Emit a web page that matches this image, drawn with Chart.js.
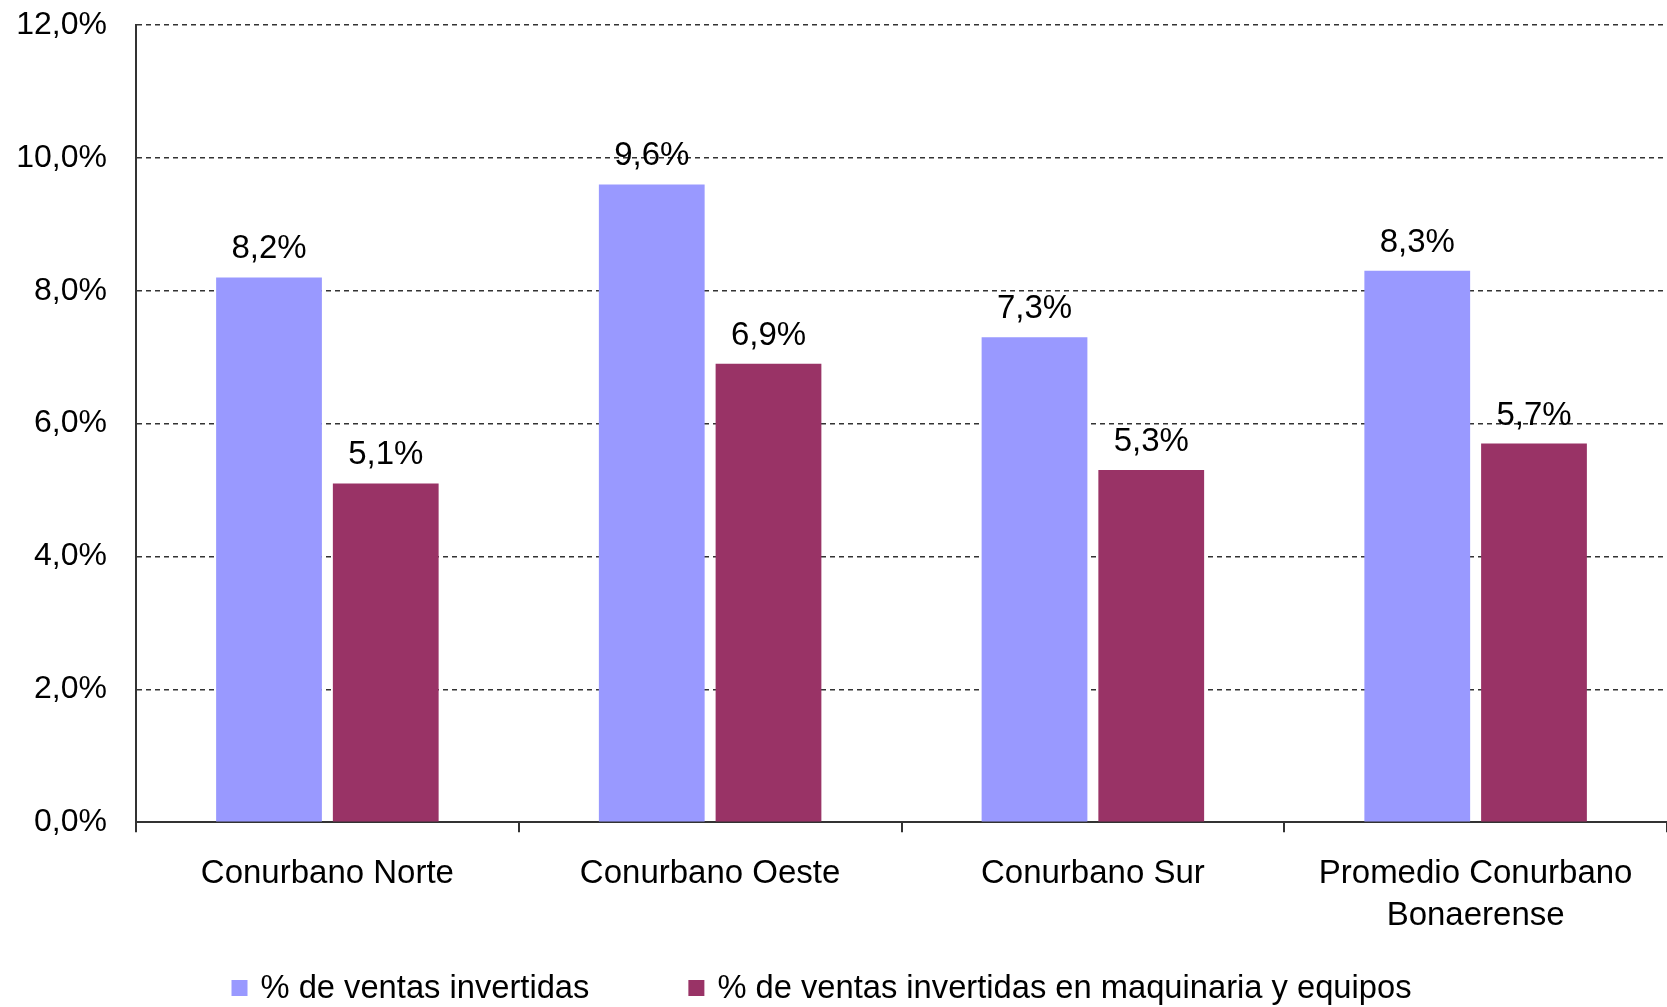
<!DOCTYPE html>
<html>
<head>
<meta charset="utf-8">
<script src="https://cdn.jsdelivr.net/npm/chart.js@4"></script>
<style>
  html, body { margin: 0; padding: 0; background: #fff; }
  canvas { display: block; }
</style>
</head>
<body>
<canvas id="bar-chart" width="1667" height="1007"></canvas>
<script>
const categories = [
  "Conurbano Norte",
  "Conurbano Oeste",
  "Conurbano Sur",
  ["Promedio Conurbano", "Bonaerense"],
];
const ventasInvertidas = [8.2, 9.6, 7.3, 8.3];
const ventasMaquinaria = [5.1, 6.9, 5.3, 5.7];
const seriesLabels = [
  "% de ventas invertidas",
  "% de ventas invertidas en maquinaria y equipos",
];
const yTicks = [0, 2, 4, 6, 8, 10, 12];

const FONT = "'Liberation Sans', Arial, sans-serif";
const fmt = (v, dec) => v.toFixed(dec).replace(".", ",") + "%";

// value labels above each bar
const valueLabels = {
  id: "valueLabels",
  afterDatasetsDraw(chart) {
    const { ctx } = chart;
    ctx.save();
    ctx.font = `33px ${FONT}`;
    ctx.fillStyle = "#000";
    ctx.textAlign = "center";
    ctx.textBaseline = "alphabetic";
    chart.data.datasets.forEach((ds, i) => {
      chart.getDatasetMeta(i).data.forEach((bar, j) => {
        ctx.fillText(fmt(ds.data[j], 1), bar.x, bar.y - 19);
      });
    });
    ctx.restore();
  },
};

// legend row at the bottom, wide gap between the two entries
const bottomLegend = {
  id: "bottomLegend",
  afterDraw(chart) {
    const { ctx } = chart;
    const box = 16, textGap = 13, itemGap = 99;
    ctx.save();
    ctx.font = `32.7px ${FONT}`;
    ctx.textBaseline = "middle";
    ctx.textAlign = "left";
    const items = chart.data.datasets.map((ds) => ({
      text: ds.label,
      color: ds.backgroundColor,
      width: box + textGap + ctx.measureText(ds.label).width,
    }));
    const total = items.reduce((s, it) => s + it.width, 0) + itemGap * (items.length - 1);
    let x = (chart.width - total) / 2 - 12;
    const y = chart.height - 19;
    items.forEach((it) => {
      ctx.fillStyle = it.color;
      ctx.fillRect(x, y - box / 2, box, box);
      ctx.fillStyle = "#000";
      ctx.fillText(it.text, x + box + textGap, y + 1);
      x += it.width + itemGap;
    });
    ctx.restore();
  },
};

new Chart(document.getElementById("bar-chart"), {
  type: "bar",
  data: {
    labels: categories,
    datasets: [
      {
        label: seriesLabels[0],
        data: ventasInvertidas,
        backgroundColor: "#9999FF",
      },
      {
        label: seriesLabels[1],
        data: ventasMaquinaria,
        backgroundColor: "#993366",
      },
    ],
  },
  options: {
    responsive: false,
    animation: false,
    devicePixelRatio: 1,
    categoryPercentage: 0.61,
    barPercentage: 0.906,
    layout: { padding: { top: 25, right: 0, bottom: 49, left: 0 } },
    plugins: {
      tooltip: { enabled: false },
      legend: { display: false },
    },
    scales: {
      x: {
        grid: {
          offset: true,
          drawOnChartArea: false,
          drawTicks: true,
          tickLength: 10,
          tickColor: "#333",
          tickWidth: 2,
          color: "#333",
          lineWidth: 2,
        },
        border: { display: true, color: "#333", width: 2 },
        ticks: {
          font: { family: FONT, size: 33, lineHeight: 1.27 },
          color: "#000",
          padding: 21,
          maxRotation: 0,
          autoSkip: false,
        },
      },
      y: {
        min: 0,
        max: 12,
        afterFit: (scale) => {
          scale.width = 136;
          scale.paddingTop = 0;
          scale.paddingBottom = 0;
        },
        afterBuildTicks: (scale) => {
          scale.ticks = yTicks.map((v) => ({ value: v }));
        },
        grid: {
          drawTicks: false,
          color: "#333",
          lineWidth: 1.6,
        },
        border: { display: true, color: "#333", width: 2, dash: [5, 4] },
        ticks: {
          font: { family: FONT, size: 32 },
          color: "#000",
          padding: 29,
          callback: (v) => fmt(v, 1),
        },
      },
    },
  },
  plugins: [valueLabels, bottomLegend],
});
</script>
</body>
</html>
